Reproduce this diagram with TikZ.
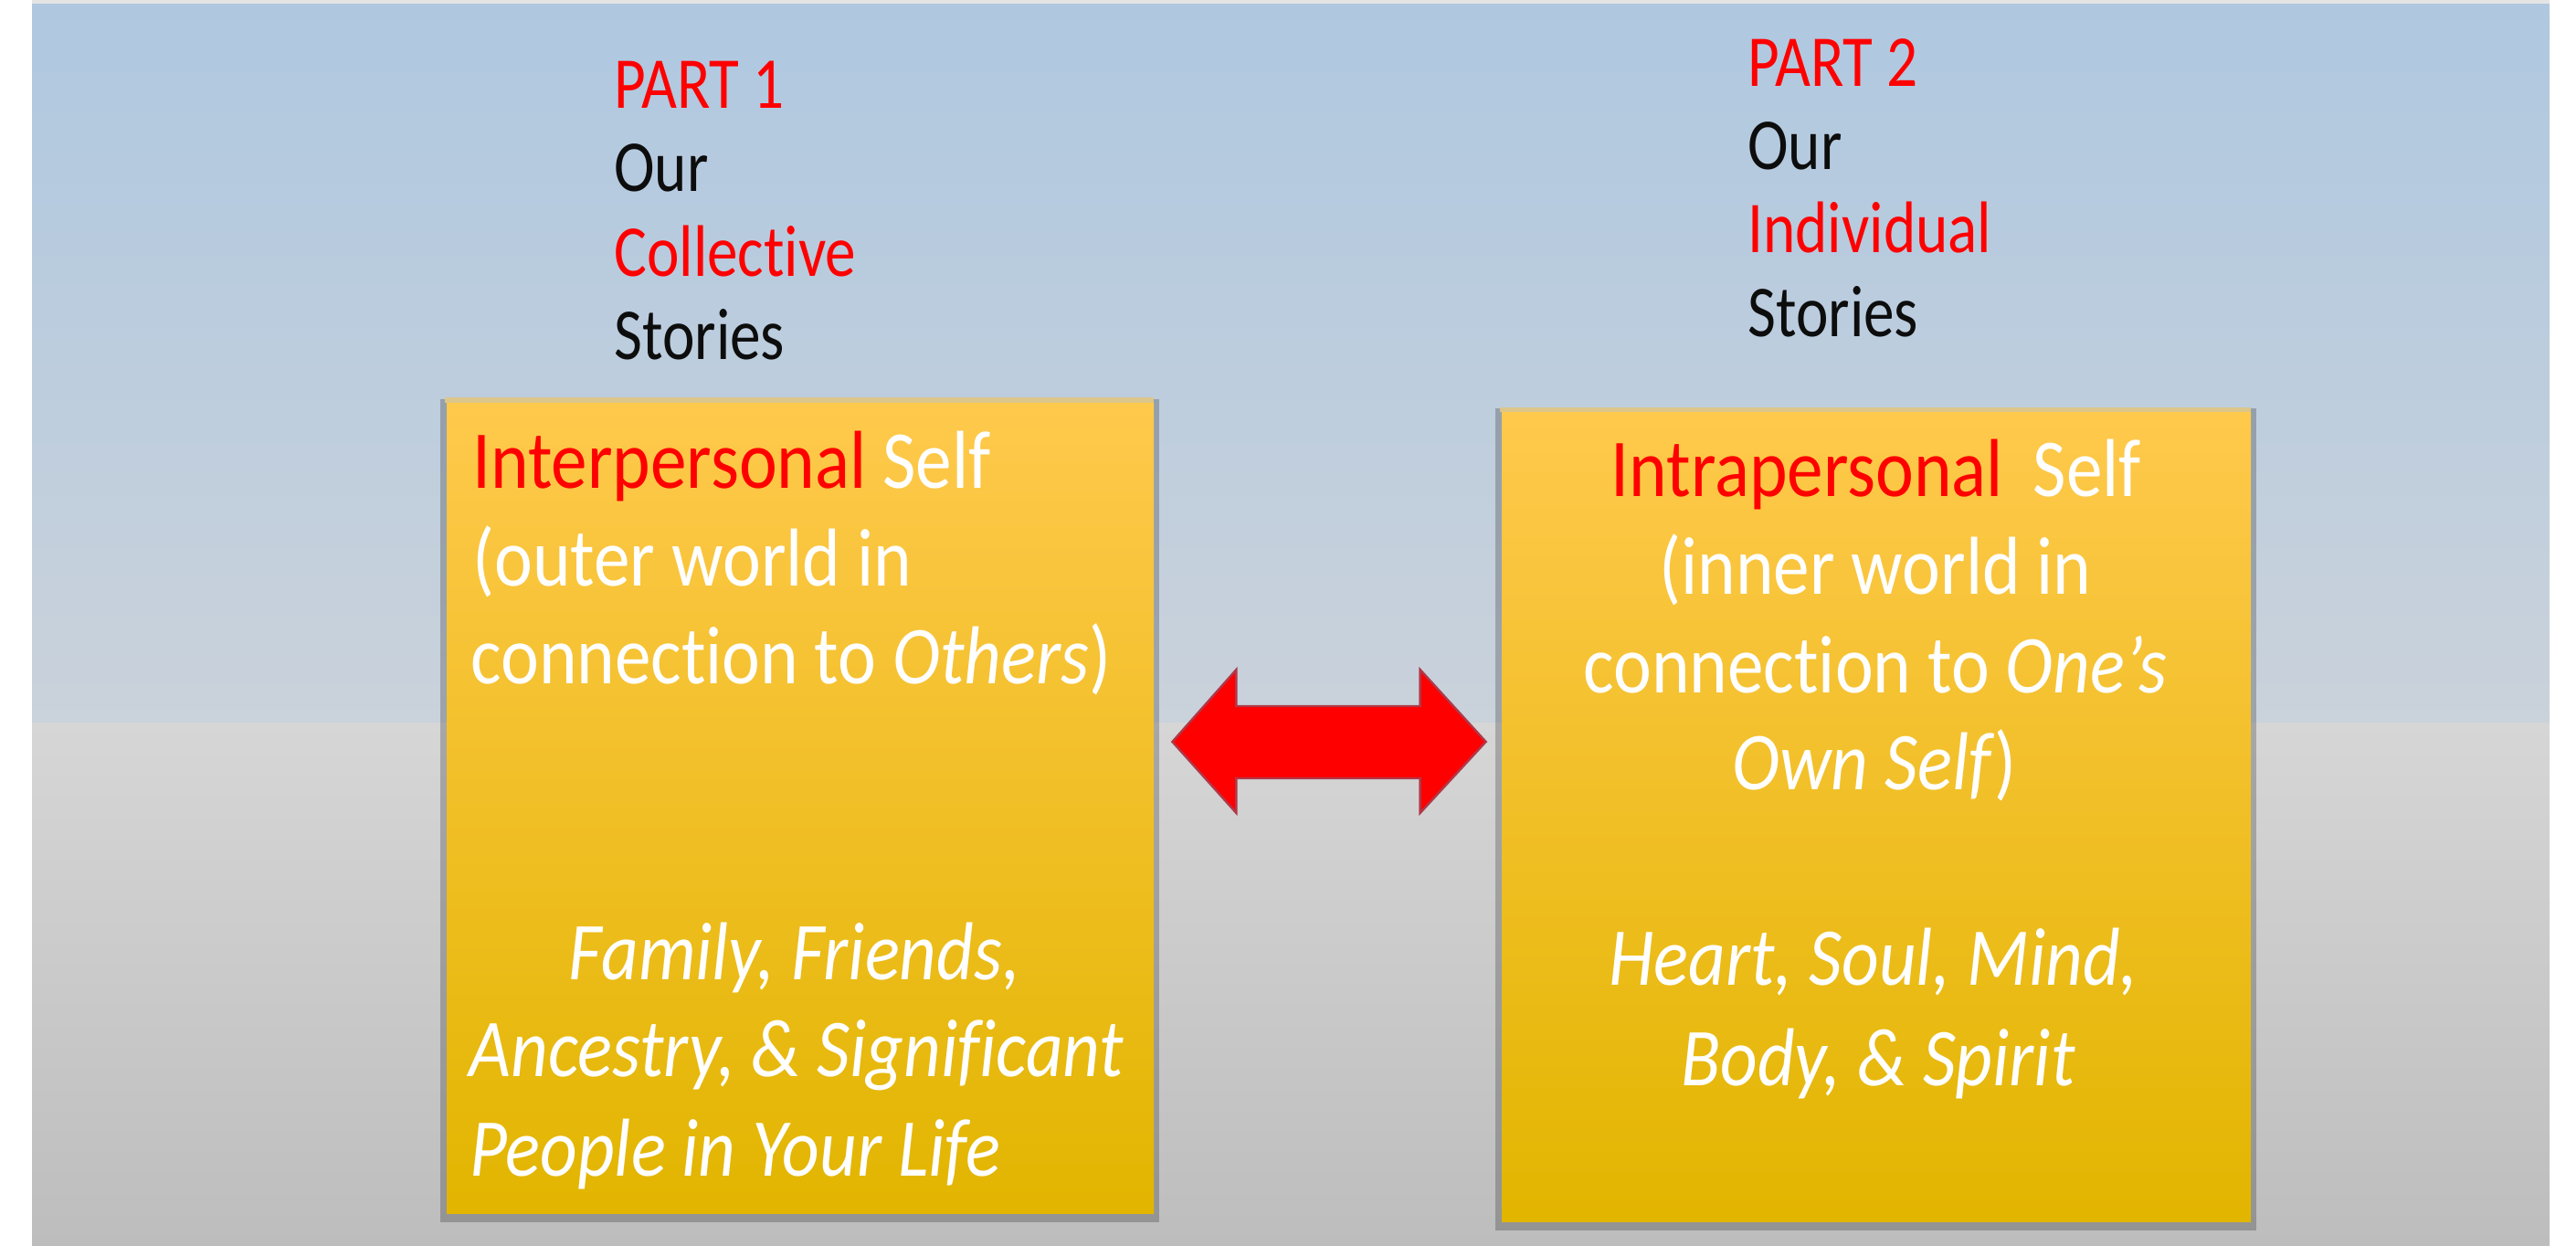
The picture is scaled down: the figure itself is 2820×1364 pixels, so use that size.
\documentclass[tikz,border=0pt]{standalone}
\usepackage{fontspec}
\usetikzlibrary{calc}
\newfontfamily\headfont[FakeStretch=0.84,Ligatures={NoCommon}]{Carlito}
\newfontfamily\cardfont[FakeStretch=0.88,Ligatures={NoCommon}]{Carlito}
\definecolor{rim}{HTML}{E4E4E4}
\definecolor{skytop}{HTML}{AFC8E0}
\definecolor{skybot}{HTML}{CAD2DB}
\definecolor{floortop}{HTML}{D6D6D6}
\definecolor{floorbot}{HTML}{BDBDBD}
\definecolor{cardtop}{HTML}{FFC94C}
\definecolor{cardmid}{HTML}{FEC704}
\definecolor{cardbot}{HTML}{E2B500}
\definecolor{cardrim}{HTML}{DCC68A}
\definecolor{hotred}{HTML}{FF0000}
\definecolor{arrowedge}{HTML}{B03848}
\definecolor{ink}{HTML}{0D0D0D}
\begin{document}
\begin{tikzpicture}[x=0.5pt,y=-0.5pt,
  head/.style={anchor=base west, inner sep=0pt, font=\headfont\fontsize{40}{48}\selectfont},
  cardtxt/.style={inner sep=0pt, text=white, font=\cardfont\fontsize{45}{54}\selectfont},
  card/.style={rectangle, inner sep=0pt, draw=none,
    top color=cardtop, middle color=cardmid, bottom color=cardbot},
  cardshadow/.style={fill=black, opacity=0.22},
  redarrow/.style={fill=hotred, draw=arrowedge, line width=1.2pt, line join=miter}]
\useasboundingbox (0,0) rectangle (2820,1364);
% page and backdrop
\fill[white] (0,0) rectangle (2820,1364);
\fill[rim] (35,0) rectangle (2791,5);
\shade[top color=skytop, bottom color=skybot] (35,5) rectangle (2791,791);
\shade[top color=floortop, bottom color=floorbot] (35,791) rectangle (2791,1364);

% headings above the cards
\node[head, text=hotred] (p1a) at (672,119) {PART 1};
\node[head, text=ink]    (p1b) at (672,210) {Our};
\node[head, text=hotred] (p1c) at (672,302) {Collective};
\node[head, text=ink]    (p1d) at (672,393) {Stories};

\node[head, text=hotred] (p2a) at (1913,95)  {PART 2};
\node[head, text=ink]    (p2b) at (1913,186) {Our};
\node[head, text=hotred] (p2c) at (1913,277) {Individual};
\node[head, text=ink]    (p2d) at (1913,368) {Stories};

% soft shadows behind the cards
\fill[cardshadow] (482,437) rectangle (1269,1338);
\fill[cardshadow] (1637,447) rectangle (2470,1347);
\fill[cardrim] (487,435) rectangle (1263,441);
\fill[cardrim] (1642,446) rectangle (2464,451);

% the two cards
\node[card, minimum width=387pt, minimum height=443.5pt] (lbox) at (876,884.5) {};
\node[card, minimum width=410pt, minimum height=443pt]   (rbox) at (2054,894) {};

% left card text
\node[cardtxt, anchor=base west] (l1) at (517,534) {{\color{hotred}Interpersonal} Self};
\node[cardtxt, anchor=base west] (l2) at (517,641) {(outer world in};
\node[cardtxt, anchor=base west] (l3) at (515,748) {connection to \textit{Others})};
\node[cardtxt, anchor=base] (l4) at (870,1072) {\itshape Family, Friends,};
\node[cardtxt, anchor=base] (l5) at (872,1178) {\itshape Ancestry, \& Significant};
\node[cardtxt, anchor=base west] (l6) at (514,1287) {\itshape People in Your Life};

% right card text
\node[cardtxt, anchor=base] (r1) at (2054,543) {{\color{hotred}Intrapersonal}\, Self};
\node[cardtxt, anchor=base] (r2) at (2053,650) {(inner world in};
\node[cardtxt, anchor=base] (r3) at (2053,758) {connection to \textit{One’s}};
\node[cardtxt, anchor=base] (r4) at (2052,864) {\textit{Own Self})};
\node[cardtxt, anchor=base] (r5) at (2051,1078) {\itshape Heart, Soul, Mind,};
\node[cardtxt, anchor=base] (r6) at (2056,1188) {\itshape Body, \& Spirit};

% two-headed block arrow between the cards
\coordinate (tipL) at ($(lbox.east |- 0,812)+(20,0)$);
\coordinate (tipR) at ($(rbox.west |- 0,812)+(-17,0)$);
\draw[redarrow] (tipL) -- ++(70,-79) -- ++(0,40) -- ($(tipR)+(-72,-39)$) -- ++(0,-40)
  -- (tipR) -- ++(-72,78) -- ++(0,-38) -- ($(tipL)+(70,40)$) -- ++(0,38) -- cycle;
\end{tikzpicture}
\end{document}
